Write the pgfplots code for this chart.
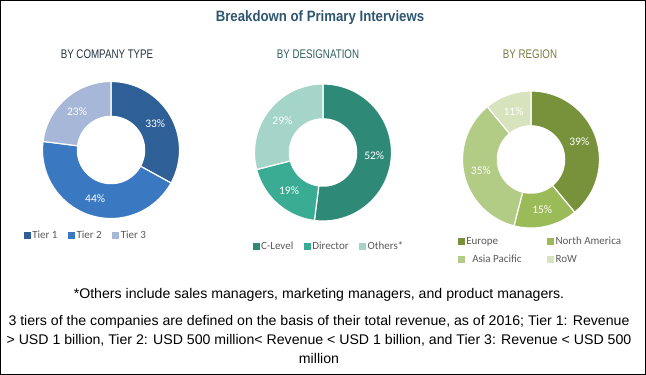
\documentclass[border=0pt]{standalone}
\usepackage{pgfplots}
\pgfplotsset{compat=1.18}
\usepackage{fontspec}
\setmainfont{Liberation Sans}
\newfontfamily\titlefont[FakeStretch=0.88]{Liberation Sans}
\newfontfamily\subfont[FakeStretch=0.78]{Liberation Sans}
\newfontfamily\notefont[FakeStretch=1.01]{Liberation Sans}
\newfontfamily\calfont{Carlito}

\definecolor{titleblue}{HTML}{2F5670}
\definecolor{subA}{HTML}{26323E}
\definecolor{subB}{HTML}{2F5F5A}
\definecolor{subC}{HTML}{7A7A40}
\definecolor{legendgray}{HTML}{595959}
\definecolor{tierA}{HTML}{2E5F96}
\definecolor{tierB}{HTML}{3A79C2}
\definecolor{tierC}{HTML}{A6B7D7}
\definecolor{desA}{HTML}{2E8A77}
\definecolor{desB}{HTML}{3AAC94}
\definecolor{desC}{HTML}{A4D5C8}
\definecolor{regA}{HTML}{77923B}
\definecolor{regB}{HTML}{9BBB59}
\definecolor{regC}{HTML}{B2CC86}
\definecolor{regD}{HTML}{D6E3BC}

\pgfplotsset{
  donut/.style={hide axis, scale only axis, width=137pt, height=137pt,
    xmin=-1, xmax=1, ymin=-1, ymax=1, anchor=center, clip=false,
    legend image code/.code={\fill[##1,draw=none] (0pt,-3.5pt) rectangle (7pt,3.5pt);},
    legend cell align=left,
    legend style={draw=none, fill=none, inner sep=0pt,
      font=\calfont\fontsize{11}{13}\selectfont,
      nodes={text=legendgray, inner xsep=1.5pt, inner ysep=1pt}}}
}
\tikzset{pct/.style={text=white, font=\calfont\fontsize{11.5}{13}\selectfont}}

% slice: start percent, end percent, colour, legend text
\newcommand{\donutslice}[4]{%
  \pgfmathsetmacro\da{90-3.6*#2}%
  \pgfmathsetmacro\db{90-3.6*#1}%
  \addplot[fill=#3, draw=white, line width=1.2pt, domain=\da:\db, samples=90, variable=\t]
    ({cos(\t)},{sin(\t)}) -- (axis cs:0,0) -- cycle;
  \addlegendentry{#4}
}
\newcommand{\donuthole}{%
  \addplot[fill=white, draw=none, domain=0:360, samples=120, forget plot]
    ({0.5*cos(x)},{0.5*sin(x)}) -- cycle;
}

\begin{document}
\begin{tikzpicture}[x=1pt,y=1pt]
\draw[line width=1pt] (0.5,-0.5) rectangle (645.5,-374.5);

\node[anchor=base, font=\titlefont\bfseries\fontsize{15}{18}\selectfont, text=titleblue] at (320,-21) {Breakdown of Primary Interviews};

\node[anchor=base, font=\subfont\fontsize{12.5}{15}\selectfont, text=subA] at (107,-58) {BY COMPANY TYPE};
\node[anchor=base, font=\subfont\fontsize{12.5}{15}\selectfont, text=subB] at (318,-58) {BY DESIGNATION};
\node[anchor=base, font=\subfont\fontsize{12.5}{15}\selectfont, text=subC] at (530,-58) {BY REGION};

% By company type
\begin{axis}[donut, at={(111pt,-150pt)}, legend columns=3,
  legend style={at={(axis description cs:-0.138,-0.123)}, anchor=west,
    /tikz/every even column/.append style={column sep=9pt}}]
\donutslice{0}{33}{tierA}{Tier 1}
\donutslice{33}{77}{tierB}{Tier 2}
\donutslice{77}{100}{tierC}{Tier 3}
\donuthole
\node[pct] at (axis cs:{0.75*cos(30.6)},{0.75*sin(30.6)}) {33\%};
\node[pct] at (axis cs:{0.75*cos(-108)},{0.75*sin(-108)}) {44\%};
\node[pct] at (axis cs:{0.75*cos(-228.6)},{0.75*sin(-228.6)}) {23\%};
\end{axis}

% By designation
\begin{axis}[donut, at={(323pt,-152.5pt)}, legend columns=3,
  legend style={at={(axis description cs:-0.0145,-0.188)}, anchor=west,
    /tikz/every even column/.append style={column sep=9pt}}]
\donutslice{0}{52}{desA}{C-Level}
\donutslice{52}{71}{desB}{Director}
\donutslice{71}{100}{desC}{Others*}
\donuthole
\node[pct] at (axis cs:{0.75*cos(-3.6)},{0.75*sin(-3.6)}) {52\%};
\node[pct] at (axis cs:{0.75*cos(-131.4)},{0.75*sin(-131.4)}) {19\%};
\node[pct] at (axis cs:{0.75*cos(-217.8)},{0.75*sin(-217.8)}) {29\%};
\end{axis}

% By region
\begin{axis}[donut, at={(531pt,-159.5pt)}, legend columns=2,
  legend style={at={(axis description cs:-0.036,-0.163)}, anchor=west, row sep=7pt,
    /tikz/every even column/.append style={column sep=24pt}}]
\donutslice{0}{39}{regA}{Europe}
\donutslice{39}{54}{regB}{North America}
\donutslice{54}{89}{regC}{\hspace*{6pt}Asia Pacific}
\donutslice{89}{100}{regD}{RoW}
\donuthole
\node[pct] at (axis cs:{0.75*cos(19.8)},{0.75*sin(19.8)}) {39\%};
\node[pct] at (axis cs:{0.75*cos(-77.4)},{0.75*sin(-77.4)}) {15\%};
\node[pct] at (axis cs:{0.75*cos(-167.4)},{0.75*sin(-167.4)}) {35\%};
\node[pct] at (axis cs:{0.75*cos(-250.2)},{0.75*sin(-250.2)}) {11\%};
\end{axis}

\node[anchor=base, font=\notefont\fontsize{14}{17}\selectfont] at (319,-298) {*Others include sales managers, marketing managers, and product managers.};
\node[anchor=base, font=\notefont\fontsize{14}{17}\selectfont] at (319,-325) {3 tiers of the companies are defined on the basis of their total revenue, as of 2016; Tier 1: Revenue};
\node[anchor=base, font=\notefont\fontsize{14}{17}\selectfont] at (319,-344) {> USD 1 billion, Tier 2: USD 500 million< Revenue < USD 1 billion, and Tier 3: Revenue < USD 500};
\node[anchor=base, font=\notefont\fontsize{14}{17}\selectfont] at (319,-363) {million};
\end{tikzpicture}
\end{document}
